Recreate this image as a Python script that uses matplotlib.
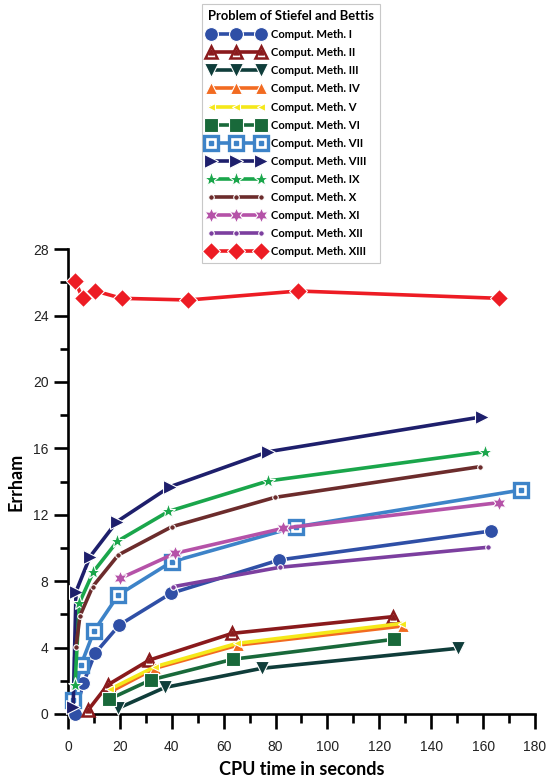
import matplotlib.pyplot as plt
from matplotlib.ticker import MultipleLocator

plt.rcParams['font.family'] = ['Liberation Sans', 'DejaVu Sans']

# CPU time (s) and Errham for each method
x_1 = [2.7, 5.9, 10.4, 19.8, 39.7, 81.5, 163.0]
y_1 = [0.0, 1.85, 3.65, 5.36, 7.27, 9.28, 11.02]
x_2 = [7.8, 15.3, 31.4, 63.4, 125.1]
y_2 = [0.24, 1.75, 3.25, 4.86, 5.86]
x_3 = [19.4, 37.4, 74.7, 150.5]
y_3 = [0.35, 1.6, 2.75, 3.96]
x_4 = [16.5, 33.5, 65.5, 129.0]
y_4 = [1.35, 2.75, 4.15, 5.3]
x_5 = [16.2, 33.6, 65.1, 128.6]
y_5 = [1.49, 2.85, 4.25, 5.45]
x_6 = [15.9, 31.9, 63.7, 125.8]
y_6 = [0.89, 2.05, 3.3, 4.5]
x_7 = [2.0, 5.0, 10.1, 19.4, 40.0, 87.8, 174.6]
y_7 = [0.84, 2.95, 5.02, 7.17, 9.17, 11.27, 13.49]
x_8 = [2.0, 3.1, 8.5, 18.8, 39.3, 77.2, 159.5]
y_8 = [0.44, 7.37, 9.48, 11.58, 13.69, 15.8, 17.9]
x_9 = [2.7, 4.4, 9.8, 19.0, 38.7, 77.2, 160.8]
y_9 = [1.75, 6.7, 8.57, 10.4, 12.2, 14.04, 15.8]
x_10 = [3.1, 4.6, 9.5, 19.4, 40.0, 79.8, 158.9]
y_10 = [4.05, 5.9, 7.67, 9.58, 11.28, 13.05, 14.9]
x_11 = [20.1, 41.3, 83.0, 166.0]
y_11 = [8.17, 9.68, 11.19, 12.73]
x_12 = [40.6, 81.8, 161.7]
y_12 = [7.67, 8.84, 10.04]
x_13 = [2.7, 5.7, 10.6, 20.7, 46.4, 88.8, 166.2]
y_13 = [26.08, 25.04, 25.48, 25.04, 24.94, 25.48, 25.04]

numerals = ['I', 'II', 'III', 'IV', 'V', 'VI', 'VII', 'VIII', 'IX', 'X',
            'XI', 'XII', 'XIII']
labels = ['Comput. Meth. ' + n for n in numerals]
xs = [x_1, x_2, x_3, x_4, x_5, x_6, x_7, x_8, x_9, x_10, x_11, x_12, x_13]
ys = [y_1, y_2, y_3, y_4, y_5, y_6, y_7, y_8, y_9, y_10, y_11, y_12, y_13]

styles = [
    dict(color='#2f4fa6', marker='o', ms=10),
    dict(color='#8a1a1c', marker='^', ms=9, mfc='white', mec='#8a1a1c', mew=1.8),
    dict(color='#0f3d3a', marker='v', ms=10),
    dict(color='#f26b21', marker='^', ms=9),
    dict(color='#f5e81a', marker='<', ms=6),
    dict(color='#19693a', marker='s', ms=10),
    dict(color='#3d83c8', marker='s', ms=9.5, mfc='white', mec='#3d83c8', mew=2.4),
    dict(color='#1e1f6c', marker='>', ms=10),
    dict(color='#1aa64b', marker='*', ms=11),
    dict(color='#6c2c2c', marker='o', ms=4),
    dict(color='#b552a8', marker=(6, 1, 0), ms=11),
    dict(color='#7c3f9f', marker='o', ms=4),
    dict(color='#ed1c24', marker='D', ms=9),
]
inner = {1: '^', 6: 's'}

fig = plt.figure(figsize=(5.5, 7.78), dpi=100)
ax = fig.add_axes([0.1236, 0.0823, 0.8491, 0.5974])

handles = []
for i, (x, y, st) in enumerate(zip(xs, ys, styles)):
    kw = dict(mec='white', mew=0.8)
    kw.update(st)
    line, = ax.plot(x, y, lw=2.6, solid_capstyle='round', clip_on=False,
                    zorder=3 + i, **kw)
    if i in inner:
        dot, = ax.plot(x, y, ls='none', marker=inner[i], ms=3.5,
                       color=st['color'], clip_on=False, zorder=3 + i)
        handles.append((line, dot))
    else:
        handles.append(line)

ax.set_xlim(0, 180)
ax.set_ylim(0, 28)
ax.set_xticks(range(0, 181, 20))
ax.set_yticks(range(0, 29, 4))
ax.xaxis.set_minor_locator(MultipleLocator(10))
ax.yaxis.set_minor_locator(MultipleLocator(2))

for s in ['top', 'right']:
    ax.spines[s].set_visible(False)
for s in ['left', 'bottom']:
    ax.spines[s].set_linewidth(1.9)

ax.tick_params(axis='x', which='major', length=11, width=1.9, pad=7.5,
               labelsize=10, labelcolor='#222222')
ax.tick_params(axis='x', which='minor', length=6.5, width=1.9)
ax.tick_params(axis='y', which='major', length=10, width=1.9, pad=4,
               labelsize=10, labelcolor='#222222')
ax.tick_params(axis='y', which='minor', length=6, width=1.9)

ax.set_xlabel('CPU time in seconds', family='Lato', weight='bold',
              fontsize=13, labelpad=5)
ax.set_ylabel('Errham', family='Lato', weight='bold', fontsize=13,
              labelpad=6)

leg = ax.legend(handles, labels, loc='upper left',
                bbox_to_anchor=(0.367, 0.995), bbox_transform=fig.transFigure,
                borderaxespad=0,
                title='Problem of Stiefel and Bettis',
                title_fontproperties={'family': 'Lato', 'weight': 'bold',
                                      'size': 9.4},
                prop={'family': 'Lato', 'weight': 'bold', 'size': 8.1},
                numpoints=3, handlelength=5.0, handletextpad=0.6,
                labelspacing=0.63, borderpad=0.55, alignment='left',
                frameon=True, fancybox=False, edgecolor='#c8c8c8',
                framealpha=1)
leg.get_frame().set_linewidth(0.8)
leg.set_zorder(20)

fig.savefig('out.png', dpi=100)
